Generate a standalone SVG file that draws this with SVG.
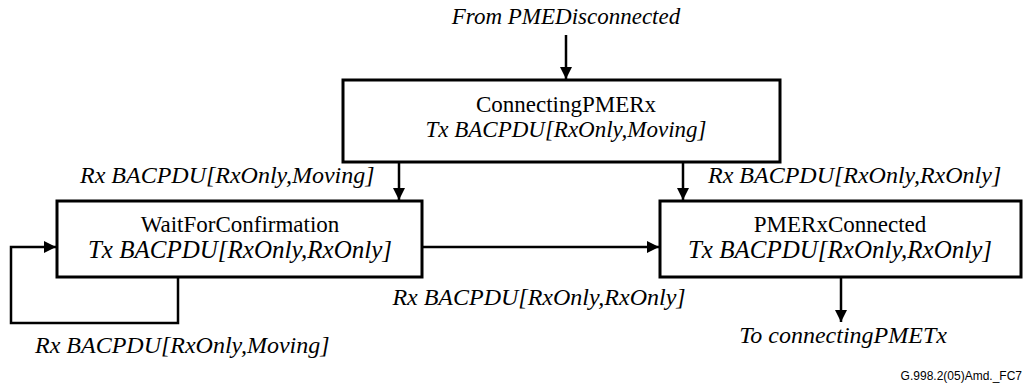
<svg xmlns="http://www.w3.org/2000/svg" width="1027" height="387" viewBox="0 0 1027 387">
<defs>
<marker id="ah" viewBox="0 0 12 12" refX="12" refY="6" markerWidth="12" markerHeight="12" markerUnits="userSpaceOnUse" orient="auto">
<path d="M0,0 L12,6 L0,12 Z" fill="#000"/>
</marker>
<style>
.box{fill:#fff;stroke:#000;stroke-width:3}
.t{font-family:"Liberation Serif","Times New Roman",serif;font-size:23px;fill:#000}
.i{font-style:italic}
.l{font-size:24px}
.b{font-size:25px}
.c{stroke:#000;stroke-width:2.5;fill:none}
</style>
</defs>
<rect width="1027" height="387" fill="#fff"/>
<g id="connectors">
<line class="c" x1="566" y1="35" x2="566" y2="79" marker-end="url(#ah)"/>
<line class="c" x1="399" y1="163" x2="399" y2="200" marker-end="url(#ah)"/>
<line class="c" x1="683" y1="163" x2="683" y2="200" marker-end="url(#ah)"/>
<line class="c" x1="423" y1="247" x2="659" y2="247" marker-end="url(#ah)"/>
<polyline class="c" points="178,278 178,323 11,323 11,247 56,247" marker-end="url(#ah)"/>
<line class="c" x1="841" y1="278" x2="841" y2="322" marker-end="url(#ah)"/>
</g>
<g id="label-from">
<text class="t i" x="566" y="24" text-anchor="middle">From PMEDisconnected</text>
</g>
<g id="node-connecting">
<rect class="box" x="343" y="80" width="437" height="82"/>
<text class="t" x="566" y="112" text-anchor="middle">ConnectingPMERx</text>
<text class="t i" x="566" y="137" text-anchor="middle">Tx BACPDU[RxOnly,Moving]</text>
</g>
<g id="node-wait">
<rect class="box" x="57" y="201" width="365" height="76"/>
<text class="t" x="240" y="232" text-anchor="middle">WaitForConfirmation</text>
<text class="t i b" x="240" y="258" text-anchor="middle">Tx BACPDU[RxOnly,RxOnly]</text>
</g>
<g id="node-connected">
<rect class="box" x="660" y="201" width="361" height="76"/>
<text class="t" x="840" y="232" text-anchor="middle">PMERxConnected</text>
<text class="t i b" x="840" y="258" text-anchor="middle">Tx BACPDU[RxOnly,RxOnly]</text>
</g>
<g id="labels">
<text class="t i l" x="80" y="183">Rx BACPDU[RxOnly,Moving]</text>
<text class="t i l" x="708" y="183">Rx BACPDU[RxOnly,RxOnly]</text>
<text class="t i l" x="539" y="305" text-anchor="middle">Rx BACPDU[RxOnly,RxOnly]</text>
<text class="t i l" x="35" y="353">Rx BACPDU[RxOnly,Moving]</text>
<text class="t i l" x="843" y="343" text-anchor="middle">To connectingPMETx</text>
<text x="1022" y="380" text-anchor="end" font-family="Liberation Sans, Arial, sans-serif" font-size="12" fill="#000">G.998.2(05)Amd._FC7</text>
</g>
</svg>
